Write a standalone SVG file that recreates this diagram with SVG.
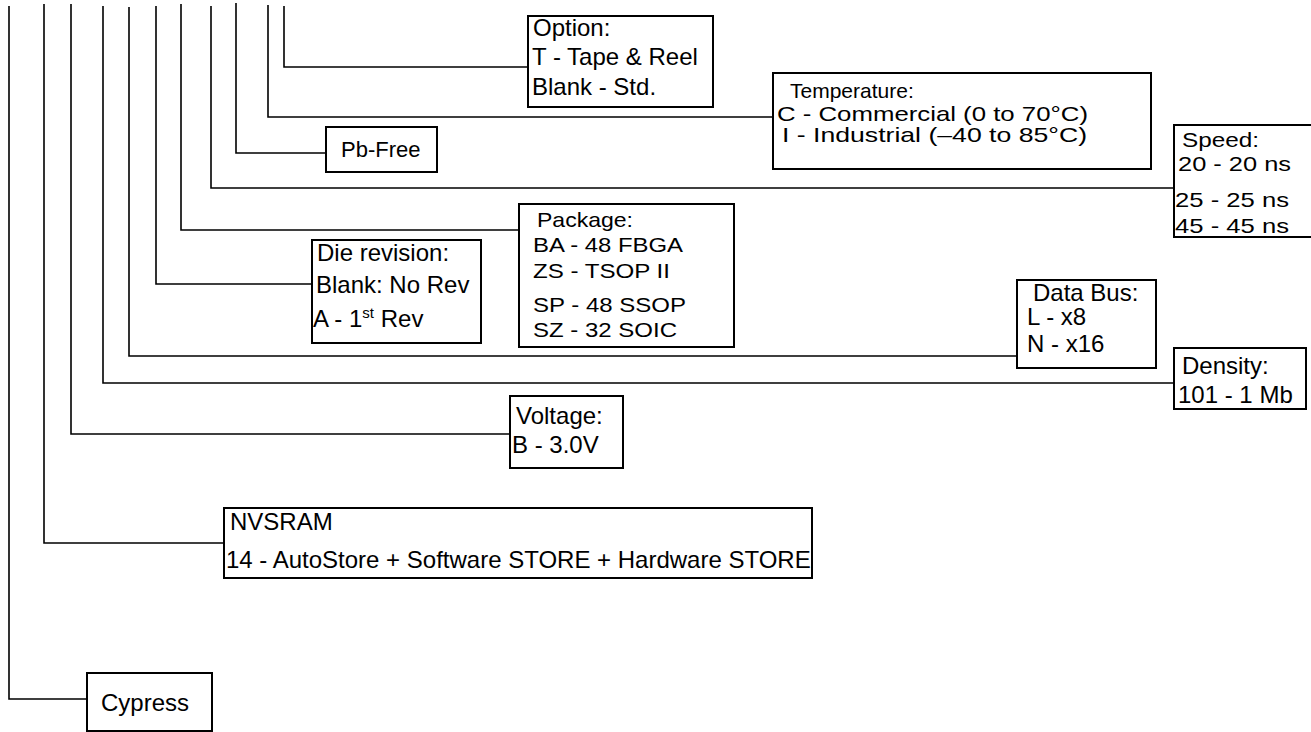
<svg xmlns="http://www.w3.org/2000/svg" width="1311" height="732" viewBox="0 0 1311 732">
<style>
.box{fill:#fff;stroke:#000;stroke-width:2}
.ln{fill:none;stroke:#000;stroke-width:1.6}
text{font-family:"Liberation Sans",Arial,sans-serif;font-size:24px;fill:#000}
.sup{font-size:15px}
.sm{font-size:22px}
.nr{font-size:21px}
</style>
<rect width="1311" height="732" fill="#fff"/>
<g id="connectors">
<polyline class="ln" points="9,6 9,699 87,699"/>
<polyline class="ln" points="44,4 44,543 224,543"/>
<polyline class="ln" points="71,4 71,434 510,434"/>
<polyline class="ln" points="103,6 103,383 1174,383"/>
<polyline class="ln" points="129,7 129,356 1017,356"/>
<polyline class="ln" points="156,6 156,284 312,284"/>
<polyline class="ln" points="181,4 181,230 519,230"/>
<polyline class="ln" points="211,6 211,188 1174,188"/>
<polyline class="ln" points="236,3 236,153 326,153"/>
<polyline class="ln" points="268,5 268,117 773,117"/>
<polyline class="ln" points="284,6 284,67 528,67"/>
</g>
<g id="option">
<rect class="box" x="528" y="16" width="185" height="91"/>
<text x="533" y="36">Option:</text>
<text x="532" y="65">T - Tape &amp; Reel</text>
<text x="532" y="95">Blank - Std.</text>
</g>
<g id="temperature">
<rect class="box" x="773" y="73" width="378" height="96"/>
<text class="nr" x="790" y="98">Temperature:</text>
<text class="nr" x="777" y="121" textLength="311" lengthAdjust="spacingAndGlyphs">C - Commercial (0 to 70°C)</text>
<text class="nr" x="782" y="142" textLength="305" lengthAdjust="spacingAndGlyphs">I - Industrial (–40 to 85°C)</text>
</g>
<g id="pbfree">
<rect class="box" x="326" y="127" width="111" height="45"/>
<text class="sm" x="341" y="157">Pb-Free</text>
</g>
<g id="speed">
<rect class="box" x="1174" y="125" width="138" height="112"/>
<text class="nr" x="1182" y="147" textLength="77" lengthAdjust="spacingAndGlyphs">Speed:</text>
<text class="nr" x="1178" y="171" textLength="113" lengthAdjust="spacingAndGlyphs">20 - 20 ns</text>
<text class="nr" x="1175" y="207" textLength="114" lengthAdjust="spacingAndGlyphs">25 - 25 ns</text>
<text class="nr" x="1175" y="233" textLength="114" lengthAdjust="spacingAndGlyphs">45 - 45 ns</text>
</g>
<g id="package">
<rect class="box" x="519" y="204" width="215" height="143"/>
<text class="nr" x="537" y="227" textLength="96" lengthAdjust="spacingAndGlyphs">Package:</text>
<text class="nr" x="533" y="252" textLength="150" lengthAdjust="spacingAndGlyphs">BA - 48 FBGA</text>
<text class="nr" x="533" y="278" textLength="137" lengthAdjust="spacingAndGlyphs">ZS - TSOP II</text>
<text class="nr" x="533" y="312" textLength="153" lengthAdjust="spacingAndGlyphs">SP - 48 SSOP</text>
<text class="nr" x="533" y="337" textLength="144" lengthAdjust="spacingAndGlyphs">SZ - 32 SOIC</text>
</g>
<g id="dierev">
<rect class="box" x="312" y="240" width="169" height="103"/>
<text x="317" y="261">Die revision:</text>
<text x="316" y="293">Blank: No Rev</text>
<text x="313" y="327">A - 1<tspan class="sup" dy="-9">st</tspan><tspan dy="9"> Rev</tspan></text>
</g>
<g id="databus">
<rect class="box" x="1017" y="280" width="139" height="88"/>
<text x="1033" y="301">Data Bus:</text>
<text x="1027" y="325">L - x8</text>
<text x="1027" y="352">N - x16</text>
</g>
<g id="density">
<rect class="box" x="1174" y="348" width="132" height="61"/>
<text x="1182" y="374">Density:</text>
<text x="1178" y="403">101 - 1 Mb</text>
</g>
<g id="voltage">
<rect class="box" x="510" y="396" width="113" height="72"/>
<text x="516" y="424">Voltage:</text>
<text x="512" y="453">B - 3.0V</text>
</g>
<g id="nvsram">
<rect class="box" x="224" y="508" width="588" height="70"/>
<text x="230" y="530">NVSRAM</text>
<text x="226" y="568">14 - AutoStore + Software STORE + Hardware STORE</text>
</g>
<g id="cypress">
<rect class="box" x="87" y="673" width="125" height="58"/>
<text x="101" y="711">Cypress</text>
</g>
</svg>
